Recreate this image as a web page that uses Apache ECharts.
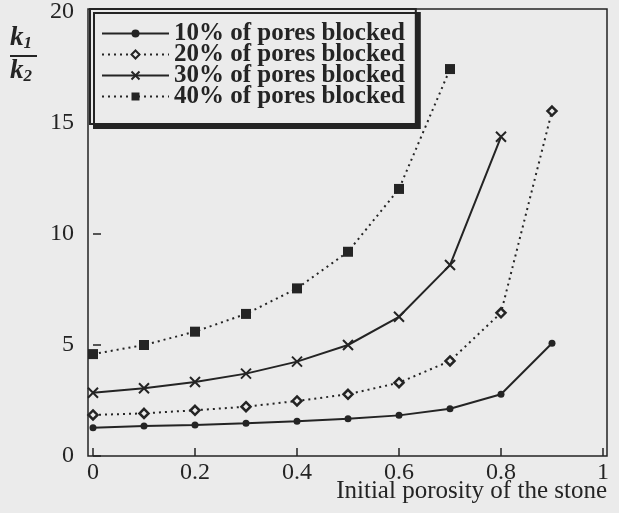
<!DOCTYPE html>
<html>
<head>
<meta charset="utf-8">
<script src="https://cdn.jsdelivr.net/npm/echarts@6/dist/echarts.min.js"></script>
<style>
html,body{margin:0;padding:0;background:#ebebeb;}
#c{width:619px;height:513px;}
</style>
</head>
<body>
<div id="c"></div>
<script>
// ---- data ----
var porosity = [0, 0.1, 0.2, 0.3, 0.4, 0.5, 0.6, 0.7, 0.8, 0.9];
var blocked10 = [1.27, 1.35, 1.40, 1.47, 1.56, 1.68, 1.83, 2.13, 2.78, 5.08];
var blocked20 = [1.85, 1.92, 2.06, 2.22, 2.48, 2.78, 3.30, 4.28, 6.45, 15.54];
var blocked30 = [2.85, 3.05, 3.33, 3.71, 4.25, 5.00, 6.27, 8.60, 14.38];
var blocked40 = [4.59, 5.00, 5.60, 6.40, 7.55, 9.20, 12.03, 17.43];
var seriesNames = ['10% of pores blocked', '20% of pores blocked', '30% of pores blocked', '40% of pores blocked'];
var xTicks = [0, 0.2, 0.4, 0.6, 0.8, 1];
var yTicks = [0, 5, 10, 15, 20];

function pairs(vals) {
  return vals.map(function (v, i) { return [porosity[i], v]; });
}

var INK = '#242424';
var FONT = 'Liberation Serif';

var chart = echarts.init(document.getElementById('c'), null, {renderer: 'canvas'});
var crossPath = 'path://M0,0L10,10M10,0L0,10';

chart.setOption({
  backgroundColor: '#ebebeb',
  animation: false,
  grid: [
    {left: 93, right: 16, top: 12, bottom: 57},
    {left: 88, right: 12, top: 9, bottom: 57, show: true, borderColor: INK, borderWidth: 1.5, backgroundColor: 'transparent'}
  ],
  xAxis: [
    {
      type: 'value', gridIndex: 0, min: xTicks[0], max: xTicks[xTicks.length - 1], interval: 0.2,
      axisLine: {show: false},
      axisTick: {show: true, inside: true, length: 8, lineStyle: {color: INK, width: 1.5}},
      splitLine: {show: false},
      axisLabel: {color: INK, fontFamily: FONT, fontSize: 24, margin: 5,
        formatter: function (v) { return String(Math.round(v * 10) / 10); }}
    },
    {type: 'value', gridIndex: 1, show: false, min: 0, max: 1}
  ],
  yAxis: [
    {
      type: 'value', gridIndex: 0, min: yTicks[0], max: yTicks[yTicks.length - 1], interval: 5, offset: 5,
      axisLine: {show: false},
      axisTick: {show: true, inside: true, length: 8, lineStyle: {color: INK, width: 1.5}},
      splitLine: {show: false},
      axisLabel: {color: INK, fontFamily: FONT, fontSize: 24, margin: 14}
    },
    {type: 'value', gridIndex: 1, show: false, min: 0, max: 1}
  ],
  legend: {
    left: 90, top: 9, orient: 'vertical',
    data: seriesNames,
    itemWidth: 67, itemHeight: 10, itemGap: -4,
    padding: [12, 11, 15, 11],
    backgroundColor: '#ebebeb',
    borderColor: INK, borderWidth: 2,
    shadowColor: INK, shadowOffsetX: 4, shadowOffsetY: 4, shadowBlur: 0,
    textStyle: {color: INK, fontFamily: FONT, fontWeight: 'bold', fontSize: 25},
    selectedMode: false
  },
  series: [
    {
      name: seriesNames[0], type: 'line', data: pairs(blocked10),
      symbol: 'circle', symbolSize: 7,
      lineStyle: {color: INK, width: 2, type: 'solid'},
      itemStyle: {color: INK}
    },
    {
      name: seriesNames[1], type: 'line', data: pairs(blocked20),
      symbol: 'diamond', symbolSize: 9,
      lineStyle: {color: INK, width: 2, type: [2, 4]},
      itemStyle: {color: '#ebebeb', borderColor: INK, borderWidth: 2.5}
    },
    {
      name: seriesNames[2], type: 'line', data: pairs(blocked30),
      symbol: crossPath, symbolSize: 10,
      lineStyle: {color: INK, width: 2, type: 'solid'},
      itemStyle: {color: INK, borderColor: INK, borderWidth: 2}
    },
    {
      name: seriesNames[3], type: 'line', data: pairs(blocked40),
      symbol: 'rect', symbolSize: 10,
      lineStyle: {color: INK, width: 2, type: [2, 4]},
      itemStyle: {color: INK}
    }
  ],
  graphic: [
    {type: 'text', left: 10, top: 25, style: {
      text: '{k|k}{s|1}', rich: {
        k: {fontFamily: FONT, fontStyle: 'italic', fontWeight: 'bold', fontSize: 27, fill: INK, color: INK},
        s: {fontFamily: FONT, fontStyle: 'italic', fontWeight: 'bold', fontSize: 17, fill: INK, color: INK, padding: [10, 0, 0, 0]}
      }}},
    {type: 'line', shape: {x1: 10, y1: 56, x2: 37, y2: 56}, style: {stroke: INK, lineWidth: 2}},
    {type: 'text', left: 10, top: 58, style: {
      text: '{k|k}{s|2}', rich: {
        k: {fontFamily: FONT, fontStyle: 'italic', fontWeight: 'bold', fontSize: 27, fill: INK, color: INK},
        s: {fontFamily: FONT, fontStyle: 'italic', fontWeight: 'bold', fontSize: 17, fill: INK, color: INK, padding: [10, 0, 0, 0]}
      }}},
    {type: 'text', right: 12, top: 479, style: {
      text: 'Initial porosity of the stone', fontFamily: FONT, fontSize: 25, fill: INK}}
  ]
});
</script>
</body>
</html>
